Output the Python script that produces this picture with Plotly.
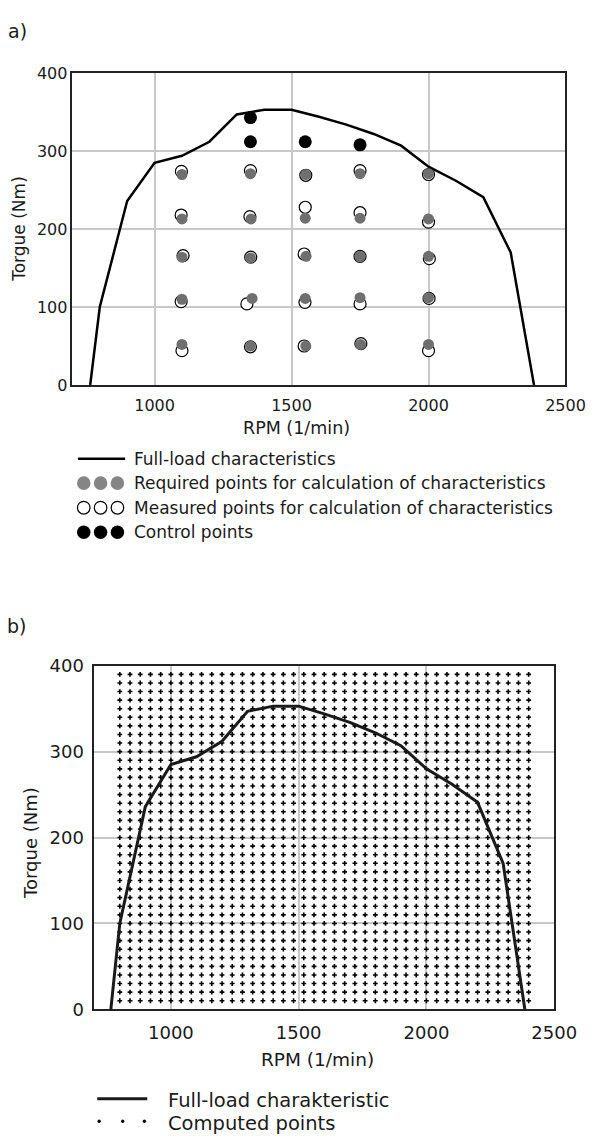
import plotly.graph_objects as go

W, H = 614, 1144
FONT = "DejaVu Sans"

# ---------------- data ----------------
# full-load characteristic (both charts)
fl_rpm = [765, 800, 900, 1000, 1100, 1200, 1300, 1400, 1500, 1600, 1700, 1800, 1900, 2000, 2100, 2200, 2300, 2385]
fl_torque = [0, 100, 236, 285, 294, 312, 347, 353, 353, 344, 334, 322, 307, 280, 262, 241, 170, 0]

# a) required points
req_rpm = [1100, 1100, 1100, 1100, 1100,
           1350, 1352, 1350, 1356, 1350,
           1552, 1550, 1553, 1550, 1552,
           1750, 1750, 1750, 1750, 1752,
           2000, 2000, 2000, 2000, 2000]
req_torque = [270, 213, 164, 110, 52,
              271, 213, 163, 111, 50,
              270, 214, 165, 111, 50,
              271, 214, 165, 112, 52,
              271, 213, 165, 112, 52]

# a) measured points
meas_rpm = [1098, 1097, 1104, 1097, 1100,
            1350, 1348, 1351, 1337, 1350,
            1552, 1550, 1546, 1549, 1546,
            1750, 1750, 1750, 1750, 1753,
            2000, 2000, 2003, 2002, 2000]
meas_torque = [274, 218, 166, 107, 44,
               275, 216, 164, 104, 49,
               269, 228, 168, 106, 50,
               275, 221, 165, 104, 53,
               270, 209, 162, 111, 44]

# a) control points
ctrl_rpm = [1350, 1350, 1550, 1750]
ctrl_torque = [343, 312, 312, 308]

# b) computed grid
grid_rpm = [800, 840, 880, 920, 960, 1000, 1040, 1080, 1120, 1160, 1200, 1240, 1280, 1320,
            1360, 1400, 1440, 1480, 1520, 1560, 1600, 1640, 1680, 1720, 1760, 1800, 1840,
            1880, 1920, 1960, 2000, 2040, 2080, 2120, 2160, 2200, 2240, 2280, 2320, 2360, 2400]
grid_torque = [10, 20, 30, 40, 50, 60, 70, 80, 90, 100, 110, 120, 130, 140, 150, 160, 170, 180,
               190, 200, 210, 220, 230, 240, 250, 260, 270, 280, 290, 300, 310, 320, 330, 340,
               350, 360, 370, 380, 390]

x_ticks = [1000, 1500, 2000, 2500]
y_ticks = [0, 100, 200, 300, 400]

legend_a = ["Full-load characteristics",
            "Required points for calculation of characteristics",
            "Measured points for calculation of characteristics",
            "Control points"]
legend_b = ["Full-load charakteristic", "Computed points"]

# ---------------- helpers ----------------
def px(x):
    return x / W

def py(y):
    return 1 - y / H

fig = go.Figure()

# a) traces
fig.add_trace(go.Scatter(x=fl_rpm, y=fl_torque, mode="lines",
                         line=dict(color="black", width=2.5), xaxis="x", yaxis="y",
                         showlegend=False))
fig.add_trace(go.Scatter(x=meas_rpm, y=meas_torque, mode="markers",
                         marker=dict(size=12, color="white", line=dict(color="black", width=1.2)),
                         xaxis="x", yaxis="y", showlegend=False))
fig.add_trace(go.Scatter(x=req_rpm, y=req_torque, mode="markers",
                         marker=dict(size=11, color="#6f6f6f", line=dict(width=0)),
                         xaxis="x", yaxis="y", showlegend=False))
fig.add_trace(go.Scatter(x=ctrl_rpm, y=ctrl_torque, mode="markers",
                         marker=dict(size=13, color="black", line=dict(width=0)),
                         xaxis="x", yaxis="y", showlegend=False))

# b) traces
gx = [r for t in grid_torque for r in grid_rpm]
gy = [t for t in grid_torque for r in grid_rpm]
fig.add_trace(go.Scatter(x=gx, y=gy, mode="markers",
                         marker=dict(size=4, symbol="cross", color="black", line=dict(width=0)),
                         xaxis="x2", yaxis="y2", showlegend=False))
fig.add_trace(go.Scatter(x=fl_rpm, y=fl_torque, mode="lines",
                         line=dict(color="#1a1a1a", width=3), xaxis="x2", yaxis="y2",
                         showlegend=False))

axis_common = dict(showline=True, mirror=True, linecolor="#222", linewidth=1.5,
                   showgrid=True, gridcolor="#c8c8c8", gridwidth=1.5,
                   zeroline=False, ticks="", fixedrange=True)

fig.update_layout(
    width=W, height=H, autosize=False,
    margin=dict(l=0, r=0, t=0, b=0),
    paper_bgcolor="white", plot_bgcolor="white",
    showlegend=False,
    font=dict(family=FONT, color="#1a1a1a"),
    xaxis=dict(domain=[px(75.2), px(587.5)], range=[700, 2500], tickvals=x_ticks,
               anchor="y", tickfont=dict(size=16), ticklabelstandoff=5, **axis_common),
    yaxis=dict(domain=[py(381), py(63.3)], range=[0, 400], tickvals=y_ticks,
               anchor="x", tickfont=dict(size=16), ticklabelstandoff=0, **axis_common),
    xaxis2=dict(domain=[px(97.9), px(575.8)], range=[700, 2500], tickvals=x_ticks,
                anchor="y2", tickfont=dict(size=18), ticklabelstandoff=6, **axis_common),
    yaxis2=dict(domain=[py(1017), py(667)], range=[0, 400], tickvals=y_ticks,
                anchor="x2", tickfont=dict(size=18), ticklabelstandoff=5, **axis_common),
)

ann = []
def text(x, y, s, size, xanchor="center", angle=0):
    ann.append(dict(x=px(x), y=py(y), xref="paper", yref="paper", text=s, showarrow=False,
                    xanchor=xanchor, yanchor="middle", textangle=angle,
                    font=dict(family=FONT, size=size, color="#1a1a1a")))

text(18, 20, "a)", 19)
text(17, 627, "b)", 19)
text(19.6, 222, "Torgue (Nm)", 17, angle=-90)
text(31.7, 848, "Torque (Nm)", 18, angle=-90)
text(308, 425, "RPM (1/min)", 17.5)
text(329.5, 1068, "RPM (1/min)", 18.5)

legend_rows_a = [456, 481, 506, 531]
for s, yy in zip(legend_a, legend_rows_a):
    text(137, yy, s, 17, xanchor="left")
legend_rows_b = [1110, 1133]
for s, yy in zip(legend_b, legend_rows_b):
    text(172, yy, s, 19.5, xanchor="left")

shapes = []
# legend a symbols
shapes.append(dict(type="line", xref="paper", yref="paper", x0=px(81), x1=px(130),
                   y0=py(456), y1=py(456), line=dict(color="black", width=2.5)))
sym_x = [87, 104.5, 122]
def circ(cx, cy, d, fill, lc, lw):
    shapes.append(dict(type="circle", xref="paper", yref="paper",
                       x0=px(cx - d / 2), x1=px(cx + d / 2), y0=py(cy + d / 2), y1=py(cy - d / 2),
                       fillcolor=fill, line=dict(color=lc, width=lw)))
for cx in sym_x:
    circ(cx, 481, 14, "#858585", "#858585", 0)
    circ(cx, 506, 13, "white", "black", 1.2)
    circ(cx, 531, 14, "black", "black", 0)
# legend b symbols
shapes.append(dict(type="line", xref="paper", yref="paper", x0=px(101), x1=px(153),
                   y0=py(1108), y1=py(1108), line=dict(color="#1a1a1a", width=3)))
for cx in [103, 127.5, 150]:
    circ(cx, 1131, 3.5, "black", "black", 0)

fig.update_layout(annotations=ann, shapes=shapes)

fig.write_html("out.html")
